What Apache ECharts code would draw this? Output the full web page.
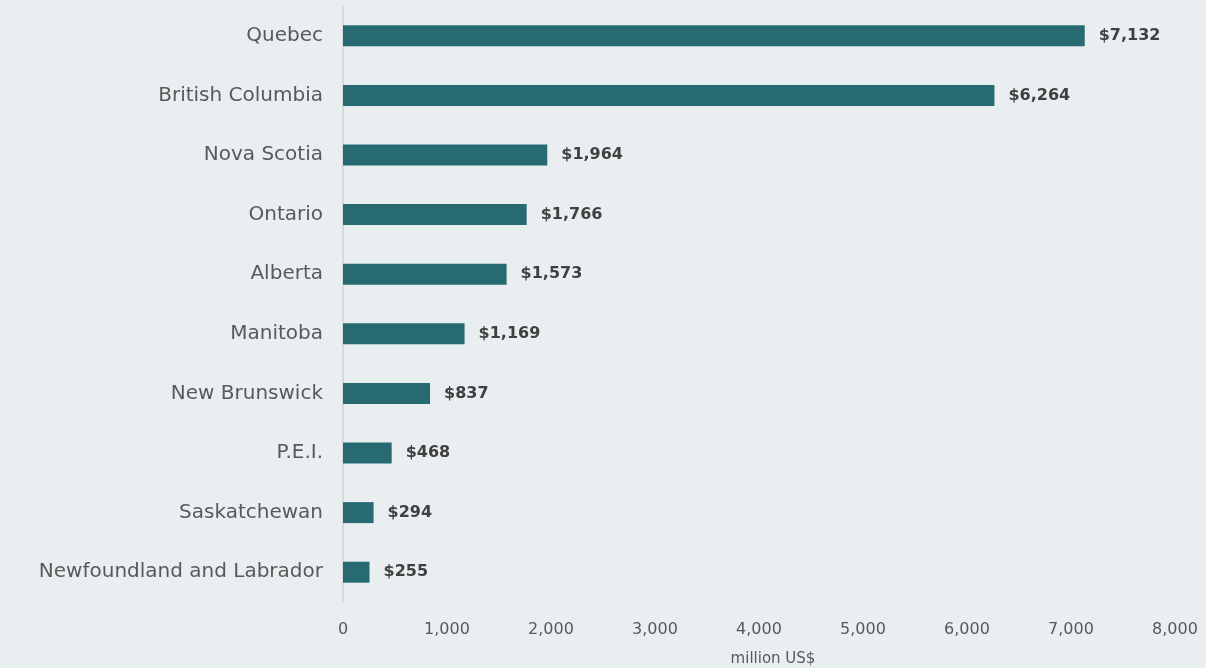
<!DOCTYPE html>
<html><head><meta charset="utf-8">
<script src="https://cdn.jsdelivr.net/npm/echarts@6/dist/echarts.min.js"></script>
<style>html,body{margin:0;padding:0;background:#e9eef1;}#c{width:1206px;height:668px;}</style>
</head><body><div id="c"></div>
<script>
const categories = ["Quebec","British Columbia","Nova Scotia","Ontario","Alberta","Manitoba","New Brunswick","P.E.I.","Saskatchewan","Newfoundland and Labrador"];
const values = [7132,6264,1964,1766,1573,1169,837,468,294,255];
const axisName = "million US$";
const FONT = "DejaVu Sans";
const chart = echarts.init(document.getElementById('c'));
chart.setOption({
  backgroundColor: '#e9eef1',
  animation: false,
  grid: {left: 343, right: 31, top: 6, bottom: 66, containLabel: false, outerBoundsMode: 'none'},
  xAxis: {
    type: 'value', min: 0, max: 8000, interval: 1000,
    name: axisName, nameLocation: 'middle', nameGap: 50,
    nameTextStyle: {color: '#595959', fontSize: 15, fontFamily: FONT, padding: [0,0,0,28]},
    axisLine: {show: false}, axisTick: {show: false}, splitLine: {show: false},
    axisLabel: {color: '#595959', fontSize: 16, fontFamily: FONT, margin: 20,
      formatter: v => v.toLocaleString('en-US')}
  },
  yAxis: {
    type: 'category', data: categories, inverse: true,
    axisLine: {show: true, lineStyle: {color: '#d9d9d9', width: 2}},
    axisTick: {show: false},
    axisLabel: {color: '#595959', fontSize: 20, fontFamily: FONT, margin: 20}
  },
  series: [{
    type: 'bar', data: values, barWidth: 21,
    itemStyle: {color: '#276a72'},
    label: {show: true, position: 'right', distance: 14, color: '#404040', fontSize: 16,
      fontWeight: 'bold', fontFamily: FONT,
      formatter: p => '$' + p.value.toLocaleString('en-US')}
  }]
});
</script></body></html>
